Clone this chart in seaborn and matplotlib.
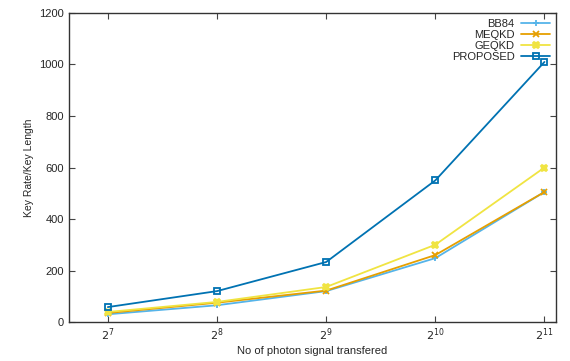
import matplotlib
matplotlib.use("Agg")
import matplotlib.pyplot as plt
import numpy as np
import pandas as pd
import seaborn as sns

photons = [128, 256, 512, 1024, 2048]
bb84 = [30, 65, 120, 248, 505]
meqkd = [35, 75, 122, 260, 505]
geqkd = [39, 78, 136, 300, 600]
proposed = [58, 120, 233, 550, 1010]

series = ["BB84", "MEQKD", "GEQKD", "PROPOSED"]
colors = ["#56b4e9", "#e69f00", "#f0e442", "#0072b2"]
markers = ["+", "x", "X", "s"]

df = pd.DataFrame({
    "photons": photons * 4,
    "value": bb84 + meqkd + geqkd + proposed,
    "method": np.repeat(series, len(photons)),
})

sns.set_style("ticks")
plt.rcParams["font.family"] = ["Liberation Sans", "DejaVu Sans"]

fig, ax = plt.subplots(figsize=(5.7, 3.61), dpi=100)
for name, col, mk in zip(series, colors, markers):
    sub = df[df["method"] == name]
    sns.lineplot(data=sub, x="photons", y="value", ax=ax, color=col, label=name,
                 marker=mk, markersize=4.5, linewidth=1.3,
                 markerfacecolor="none" if mk == "s" else col,
                 markeredgecolor=col, markeredgewidth=1.3)

ax.set_xscale("log", base=2)
ax.set_xlim(100, 2200)
ax.set_ylim(0, 1200)
ax.set_xticks(photons)
ax.set_xticklabels([r"$2^{%d}$" % e for e in range(7, 12)])
ax.set_yticks(range(0, 1201, 200))
ax.minorticks_off()
ax.tick_params(direction="in", top=True, right=True, labelsize=8, length=4, color="#444444")
for s in ax.spines.values():
    s.set_color("#333333")
    s.set_linewidth(1.0)
ax.set_xlabel("No of photon signal transfered", fontsize=8, labelpad=2)
ax.set_ylabel("Key Rate/Key Length", fontsize=7.5)

leg = ax.legend(loc="upper right", frameon=False, markerfirst=False, fontsize=8,
                handlelength=2.6, borderaxespad=0.1, labelspacing=0.1, handletextpad=0.6)

fig.subplots_adjust(left=0.121, right=0.975, top=0.964, bottom=0.108)
fig.savefig("out.png", dpi=100)
